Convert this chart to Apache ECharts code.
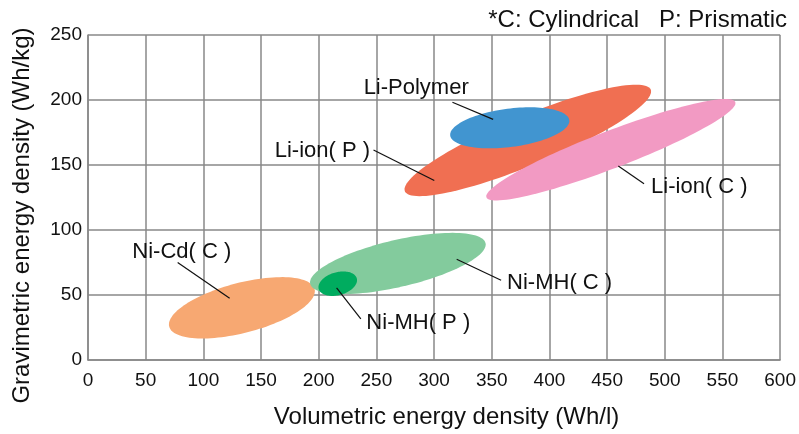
<!DOCTYPE html>
<html><head><meta charset="utf-8">
<script src="https://cdn.jsdelivr.net/npm/echarts@6/dist/echarts.min.js"></script>
<style>html,body{margin:0;padding:0;background:#fff}#c{width:799px;height:434px}</style>
</head><body><div id="c"></div>
<script>
// Battery types (regions drawn as ellipses)
const batteryNames = ['Ni-Cd( C )', 'Ni-MH( C )', 'Ni-MH( P )', 'Li-ion( P )', 'Li-ion( C )', 'Li-Polymer'];
// Major axis end points in data units [Wh/l, Wh/kg]
const axisStart = [[70.4, 25.7], [192.6, 58.6], [200.0, 54.6], [274.7, 129.8], [345.4, 125.1], [314.0, 172.7]];
const axisEnd   = [[196.4, 54.6], [344.6, 89.9], [233.0, 62.8], [487.8, 208.0], [561.1, 198.4], [417.2, 184.5]];
// Minor/major axis ratio
const widthRatio = [0.334, 0.261, 0.58, 0.186, 0.14, 0.32];
const colors = ['#F7A872', '#83CB9D', '#00AC5F', '#F06F52', '#F29AC3', '#4195D0'];

// Label leader lines (data units): from near the text to the region
const leaderFrom = [[77.7, 75.0], [358.1, 61.4], [236.5, 31.6], [247.5, 161.6], [482.0, 135.6], [315.9, 198.3]];
const leaderTo   = [[122.8, 47.5], [319.6, 77.5], [215.5, 55.5], [300.2, 138.1], [459.7, 149.2], [351.2, 185.1]];
const labelAt    = [[81.3, 83.0], [363.3, 59.3], [241.3, 28.4], [244.5, 160.6], [488.1, 133.3], [284.5, 209.1]];
const labelAlign = ['center', 'left', 'left', 'right', 'left', 'center'];

const xTicks = [0, 50, 100, 150, 200, 250, 300, 350, 400, 450, 500, 550, 600];
const yTicks = [0, 50, 100, 150, 200, 250];

const FONT = "'Liberation Sans', Arial, sans-serif";

const ellipseData = batteryNames.map((n, i) => ({
  name: n,
  value: [axisStart[i][0], axisStart[i][1], axisEnd[i][0], axisEnd[i][1], widthRatio[i]],
  itemStyle: { color: colors[i] }
}));
const labelData = batteryNames.map((n, i) => ({
  name: n,
  value: [leaderFrom[i][0], leaderFrom[i][1], leaderTo[i][0], leaderTo[i][1], labelAt[i][0], labelAt[i][1]]
}));

const chart = echarts.init(document.getElementById('c'));
chart.setOption({
  animation: false,
  title: {
    text: '*C: Cylindrical   P: Prismatic',
    right: 7, top: 3,
    textStyle: { fontSize: 24, fontWeight: 'normal', color: '#111', fontFamily: FONT }
  },
  grid: { left: 88, right: 14, top: 35, bottom: 69 },
  xAxis: {
    type: 'value', min: xTicks[0], max: xTicks[xTicks.length - 1], interval: 50,
    name: 'Volumetric energy density (Wh/l)', nameLocation: 'middle', nameGap: 45,
    nameTextStyle: { fontSize: 24, color: '#111', fontFamily: FONT, padding: [0, 0, 0, 25] },
    axisLine: { lineStyle: { color: '#888', width: 1.5 } },
    axisTick: { show: false },
    axisLabel: { fontSize: 19, color: '#111', fontFamily: FONT, margin: 11 },
    splitLine: { lineStyle: { color: '#888', width: 1.5 } }
  },
  yAxis: {
    type: 'value', min: yTicks[0], max: yTicks[yTicks.length - 1], interval: 50,
    name: 'Gravimetric energy density (Wh/kg)', nameLocation: 'middle', nameGap: 54,
    nameTextStyle: { fontSize: 24, color: '#111', fontFamily: FONT, padding: [0, 36, 0, 0] },
    axisLine: { show: true, lineStyle: { color: '#888', width: 1.5 } },
    axisTick: { show: false },
    axisLabel: { fontSize: 19, color: '#111', fontFamily: FONT, margin: 6 },
    splitLine: { lineStyle: { color: '#888', width: 1.5 } }
  },
  series: [
    {
      type: 'custom',
      name: 'regions',
      data: ellipseData,
      renderItem: function (params, api) {
        const p1 = api.coord([api.value(0), api.value(1)]);
        const p2 = api.coord([api.value(2), api.value(3)]);
        const ratio = api.value(4);
        const cx = (p1[0] + p2[0]) / 2, cy = (p1[1] + p2[1]) / 2;
        const dx = (p2[0] - p1[0]) / 2, dy = (p2[1] - p1[1]) / 2;
        const a = Math.sqrt(dx * dx + dy * dy);
        const b = a * ratio;
        const ux = dx / a, uy = dy / a;
        const vx = -uy, vy = ux;
        const pts = [];
        for (let k = 0; k < 120; k++) {
          const t = k / 120 * Math.PI * 2;
          const c = Math.cos(t) * a, s = Math.sin(t) * b;
          pts.push([cx + c * ux + s * vx, cy + c * uy + s * vy]);
        }
        return {
          type: 'polygon',
          shape: { points: pts },
          style: { fill: api.visual('color') }
        };
      },
      z: 2
    },
    {
      type: 'custom',
      name: 'labels',
      data: labelData,
      renderItem: function (params, api) {
        const i = params.dataIndex;
        const f = api.coord([api.value(0), api.value(1)]);
        const t = api.coord([api.value(2), api.value(3)]);
        const l = api.coord([api.value(4), api.value(5)]);
        return {
          type: 'group',
          children: [
            { type: 'line', shape: { x1: f[0], y1: f[1], x2: t[0], y2: t[1] },
              style: { stroke: '#111', lineWidth: 1.2 } },
            { type: 'text', x: l[0], y: l[1],
              style: { text: batteryNames[i], fill: '#111', font: '22px ' + FONT,
                       align: labelAlign[i], verticalAlign: 'middle' } }
          ]
        };
      },
      z: 3
    }
  ]
});
</script></body></html>
